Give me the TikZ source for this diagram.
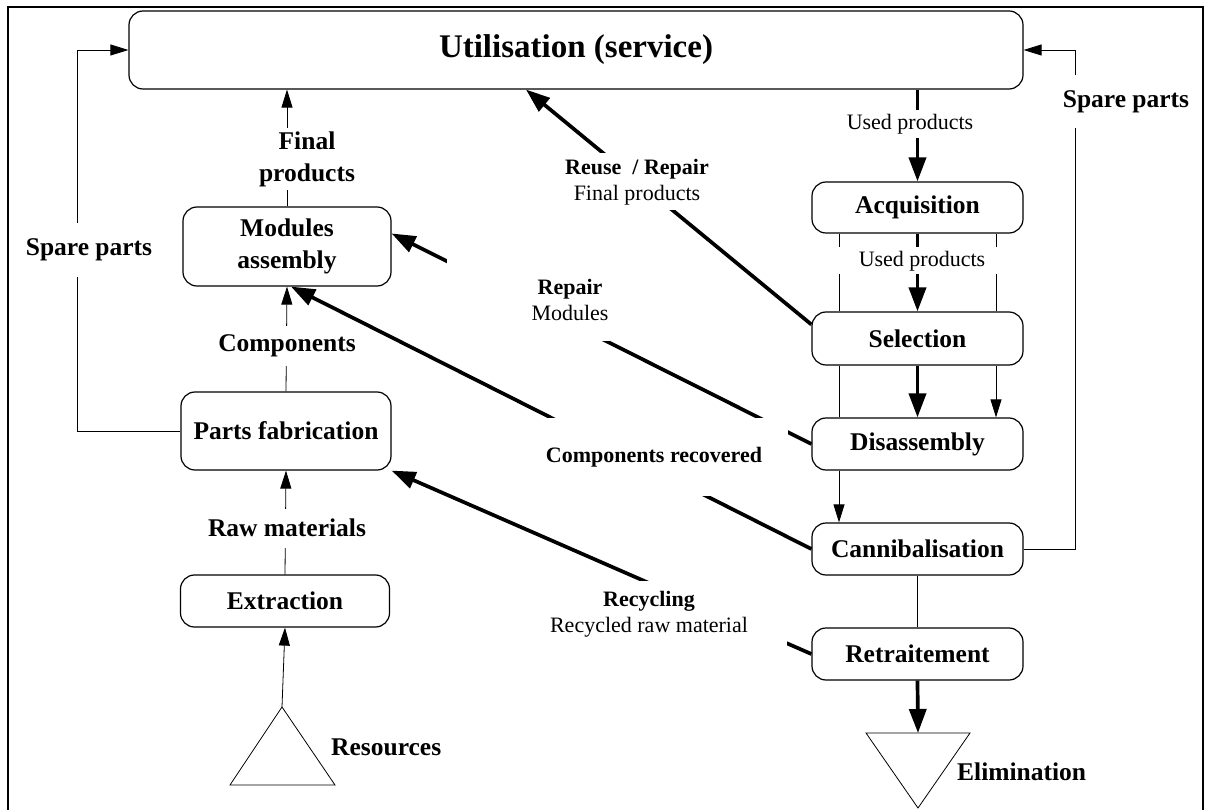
\documentclass[tikz,border=0pt]{standalone}
\usepackage{fontspec}
\setmainfont{Liberation Serif}
\usetikzlibrary{arrows.meta,calc}

\newcommand{\bigfont}{\fontsize{33}{38}\selectfont}
\newcommand{\boxfont}{\fontsize{25.5}{32}\selectfont}
\newcommand{\midfont}{\fontsize{22}{25.5}\selectfont}

\tikzset{
  stage/.style={draw, rounded corners=14pt, line width=1.2pt, fill=white, align=center, font=\boxfont\bfseries, inner sep=0pt},
  lbl/.style={fill=white, align=center, inner sep=0pt},
  thinline/.style={line width=0.8pt},
  thinarrow/.style={line width=0.8pt, -{Triangle[length=18pt,width=11pt]}},
  thickline/.style={line width=3.5pt},
  thickarrow/.style={line width=3.7pt, -{Triangle[length=24pt,width=17pt]}},
}

\begin{document}
\begin{tikzpicture}[x=1pt, y=-1pt]
    \useasboundingbox (0,0) rectangle (1208,810);
    % Frame
    \draw[line width=2.5pt] (8,810) |- (1203,7) -- (1203,810);

    % Stages - production side
    \node[stage, minimum width=894pt, minimum height=78pt, font=\bigfont\bfseries] (util) at (576,50) {Utilisation (service)};
    \node[stage, minimum width=208pt, minimum height=79pt] (mod) at (287,246.5) {Modules\\assembly};
    \node[stage, minimum width=210pt, minimum height=78pt] (parts) at (286,431) {Parts fabrication};
    \node[stage, minimum width=209pt, minimum height=52pt] (extr) at (285,601) {Extraction};

    % Stages - recovery side
    \node[stage, minimum width=211pt, minimum height=51pt] (acq) at (917.5,207.5) {Acquisition};
    \node[stage, minimum width=211pt, minimum height=53pt] (sel) at (917.5,338.5) {Selection};
    \node[stage, minimum width=211pt, minimum height=52pt] (dis) at (917.5,444) {Disassembly};
    \node[stage, minimum width=211pt, minimum height=52pt] (cann) at (917.5,549) {Cannibalisation};
    \node[stage, minimum width=211pt, minimum height=52pt] (retr) at (917.5,654) {Retraitement};

    % Source and sink
    \coordinate (resTop) at (282,707);
    \draw[thinline] (resTop) -- (335,785) -- (230,785) -- cycle;
    \coordinate (elimTop) at (918,733);
    \draw[thinline] (866,733) -- (970,733) -- (918,808) -- cycle;

    % Production flow
    \draw[thinarrow] (resTop) -- (extr.south);
    \draw[thinarrow] (extr.north) -- (parts.south);
    \draw[thinarrow] (parts.north) -- (mod.south);
    \draw[thinarrow] (mod.north) -- (mod.north |- util.south);

    % Spare parts loops
    \coordinate (spareL) at (77,50);
    \coordinate (spareR) at (1075,50);
    \draw[thinarrow] (parts.west) -| (spareL) -- (util.west);
    \draw[thinarrow] (cann.east) -| (spareR) -- (util.east);

    % Recovery flow
    \coordinate (colL) at (839,0);
    \coordinate (colR) at (996,0);
    \draw[thickarrow] (acq.north |- util.south) -- (acq.north);
    \draw[thickarrow] (acq.south) -- (sel.north);
    \draw[thickarrow] (sel.south) -- (dis.north);
    \draw[thickarrow] (retr.south) -- (elimTop);
    \draw[thinline] (acq.south -| colL) -- (sel.north -| colL);
    \draw[thinline] (acq.south -| colR) -- (sel.north -| colR);
    \draw[thinline] (sel.south -| colL) -- (dis.north -| colL);
    \draw[thinarrow] (sel.south -| colR) -- (dis.north -| colR);
    \draw[thinarrow] (dis.south -| colL) -- (cann.north -| colL);
    \draw[thinline] (cann.south) -- (retr.north);

    % Return loops
    \draw[thickarrow] ([yshift=14pt]sel.west) -- ([xshift=-50pt]util.south);
    \draw[thickarrow] (dis.west) -- ([yshift=13pt]mod.east);
    \draw[thickarrow] (cann.west) -- ([xshift=4pt]mod.south);
    \draw[thickarrow] (retr.west) -- (parts.south east);

    % Flow labels
    \node[lbl, font=\boxfont\bfseries, minimum height=62pt] (lFinal) at (307,159) {Final\\products};
    \node[lbl, font=\boxfont\bfseries, minimum height=40pt] (lComp) at (287,346) {Components};
    \node[lbl, font=\boxfont\bfseries, minimum height=39pt] (lRaw) at (287,528) {Raw materials};
    \node[lbl, font=\boxfont\bfseries, minimum height=54pt] (lSpareL) at (89,250) {Spare parts};
    \node[lbl, font=\boxfont\bfseries, minimum height=53pt] (lSpareR) at (1126,102) {Spare parts};
    \node[lbl, font=\midfont, minimum height=28pt] (lUsed1) at (910,124) {Used products};
    \node[lbl, font=\midfont, minimum width=175pt, minimum height=27pt] (lUsed2) at (922,261) {Used products};
    \node[lbl, font=\midfont, minimum width=165pt, minimum height=57pt] (lReuse) at (637,182) {\textbf{Reuse~~/ Repair}\\Final products};
    \node[lbl, font=\midfont, minimum width=246pt, minimum height=82pt] (lRepair) at (570,300) {\textbf{Repair}\\Modules};
    \node[lbl, font=\midfont\bfseries, minimum width=268pt, minimum height=78pt] (lRecov) at (654,457) {Components recovered};
    \node[lbl, font=\midfont, minimum width=276pt, minimum height=67pt] (lRecyc) at (649,614) {\textbf{Recycling}\\Recycled raw material};
    \node[font=\boxfont\bfseries, anchor=west, inner sep=0pt] (lRes) at (331,747) {Resources};
    \node[font=\boxfont\bfseries, anchor=west, inner sep=0pt] (lElim) at (957,772) {Elimination};
\end{tikzpicture}
\end{document}
